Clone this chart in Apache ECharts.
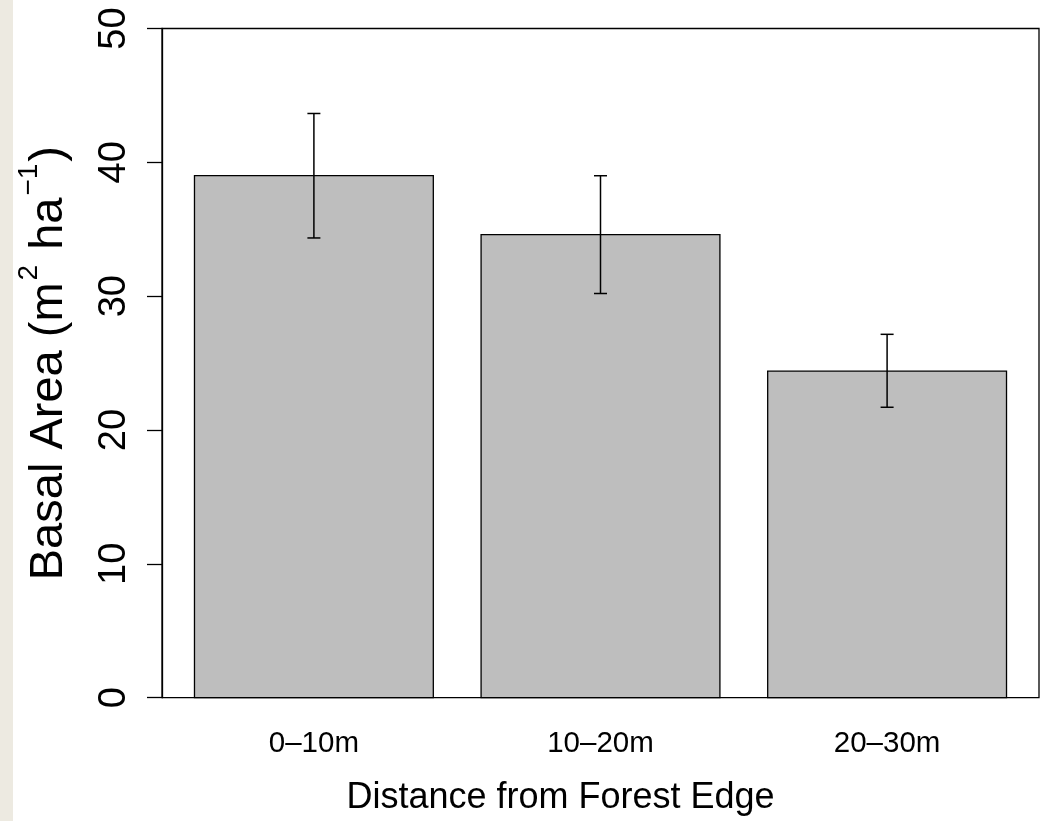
<!DOCTYPE html>
<html>
<head>
<meta charset="utf-8">
<script src="https://cdn.jsdelivr.net/npm/echarts@6/dist/echarts.min.js"></script>
<style>
html,body{margin:0;padding:0;background:#fff;}
#chart{width:1042px;height:821px;}
</style>
</head>
<body>
<div id="chart"></div>
<script>
// ---- data ----
const categories = ['0\u201310m', '10\u201320m', '20\u201330m'];
const means = [39.0, 34.6, 24.4];
const errLow = [34.35, 30.2, 21.7];
const errHigh = [43.65, 39.0, 27.15];
const yMin = 0;
const yMax = 50;
const yStep = 10;

// R barplot style layout: bar width 1, space 0.2, 4% axis expansion
const barW = 1, space = 0.2;
const centers = categories.map((c, i) => space + i * (barW + space) + barW / 2);
const xLo = space, xHi = categories.length * (barW + space);
const pad = (xHi - xLo) * 0.04;

const FONT = '"Liberation Sans", Helvetica, Arial, sans-serif';

const chart = echarts.init(document.getElementById('chart'), null, {renderer: 'canvas'});
chart.setOption({
  animation: false,
  backgroundColor: '#ffffff',
  graphic: [{
    type: 'rect', left: 0, top: 0, z: -10,
    shape: {x: 0, y: 0, width: 13, height: 821},
    style: {fill: '#EDEAE1'}
  }],
  grid: {
    left: 162, right: 3, top: 28.5, bottom: 123.3,
    containLabel: false, outerBoundsMode: 'none',
    show: true, borderColor: '#000', borderWidth: 1.3, backgroundColor: 'transparent'
  },
  xAxis: {
    type: 'value', min: xLo - pad, max: xHi + pad,
    axisLine: {show: false}, axisTick: {show: false}, splitLine: {show: false},
    axisLabel: {
      customValues: centers,
      formatter: function (v) {
        let best = 0;
        centers.forEach((c, i) => { if (Math.abs(c - v) < Math.abs(centers[best] - v)) best = i; });
        return categories[best];
      },
      fontFamily: FONT, fontSize: 29.5, color: '#000', margin: 31
    },
    name: 'Distance from Forest Edge', nameLocation: 'middle', nameGap: 82,
    nameTextStyle: {fontFamily: FONT, fontSize: 36, color: '#000', padding: [0, 80, 0, 0]}
  },
  yAxis: {
    type: 'value', min: yMin, max: yMax, interval: yStep,
    axisLine: {show: true, lineStyle: {color: '#000', width: 1.3}},
    axisTick: {show: true, length: 15, lineStyle: {color: '#000', width: 1.3}},
    splitLine: {show: false},
    axisLabel: {rotate: 90, fontFamily: FONT, fontSize: 38, color: '#000', margin: 28},
    name: '{main|Basal Area (m}{sup|2}{main| ha}{sup|\u22121}{main|)}', nameLocation: 'middle', nameRotate: 90, nameGap: 89,
    nameTextStyle: {
      fontFamily: FONT, fontSize: 47, color: '#000',
      rich: {
        main: {fontFamily: FONT, fontSize: 47, lineHeight: 47, color: '#000', verticalAlign: 'bottom'},
        sup: {fontFamily: FONT, fontSize: 28, lineHeight: 28, color: '#000', verticalAlign: 'bottom', padding: [0, 2, 30, 2]}
      }
    }
  },
  series: [{
    type: 'custom',
    coordinateSystem: 'cartesian2d',
    encode: {x: 0, y: 1},
    data: centers.map((c, i) => [c, means[i]]),
    renderItem: function (params, api) {
      const x = api.value(0), y = api.value(1);
      const p1 = api.coord([x - barW / 2, y]);
      const p2 = api.coord([x + barW / 2, 0]);
      return {
        type: 'rect',
        shape: {x: p1[0], y: p1[1], width: p2[0] - p1[0], height: p2[1] - p1[1]},
        style: {fill: '#BEBEBE', stroke: '#000', lineWidth: 1.3}
      };
    },
    z: 2
  }, {
    type: 'custom',
    coordinateSystem: 'cartesian2d',
    encode: {x: 0, y: [1, 2]},
    data: centers.map((c, i) => [c, errLow[i], errHigh[i]]),
    renderItem: function (params, api) {
      const x = api.value(0);
      const lo = api.coord([x, api.value(1)]);
      const hi = api.coord([x, api.value(2)]);
      const cw = 6.5;
      const st = {stroke: '#000', lineWidth: 1.5};
      return {
        type: 'group',
        children: [
          {type: 'line', shape: {x1: lo[0], y1: lo[1], x2: hi[0], y2: hi[1]}, style: st},
          {type: 'line', shape: {x1: lo[0] - cw, y1: lo[1], x2: lo[0] + cw, y2: lo[1]}, style: st},
          {type: 'line', shape: {x1: hi[0] - cw, y1: hi[1], x2: hi[0] + cw, y2: hi[1]}, style: st}
        ]
      };
    },
    z: 3
  }]
});
</script>
</body>
</html>
